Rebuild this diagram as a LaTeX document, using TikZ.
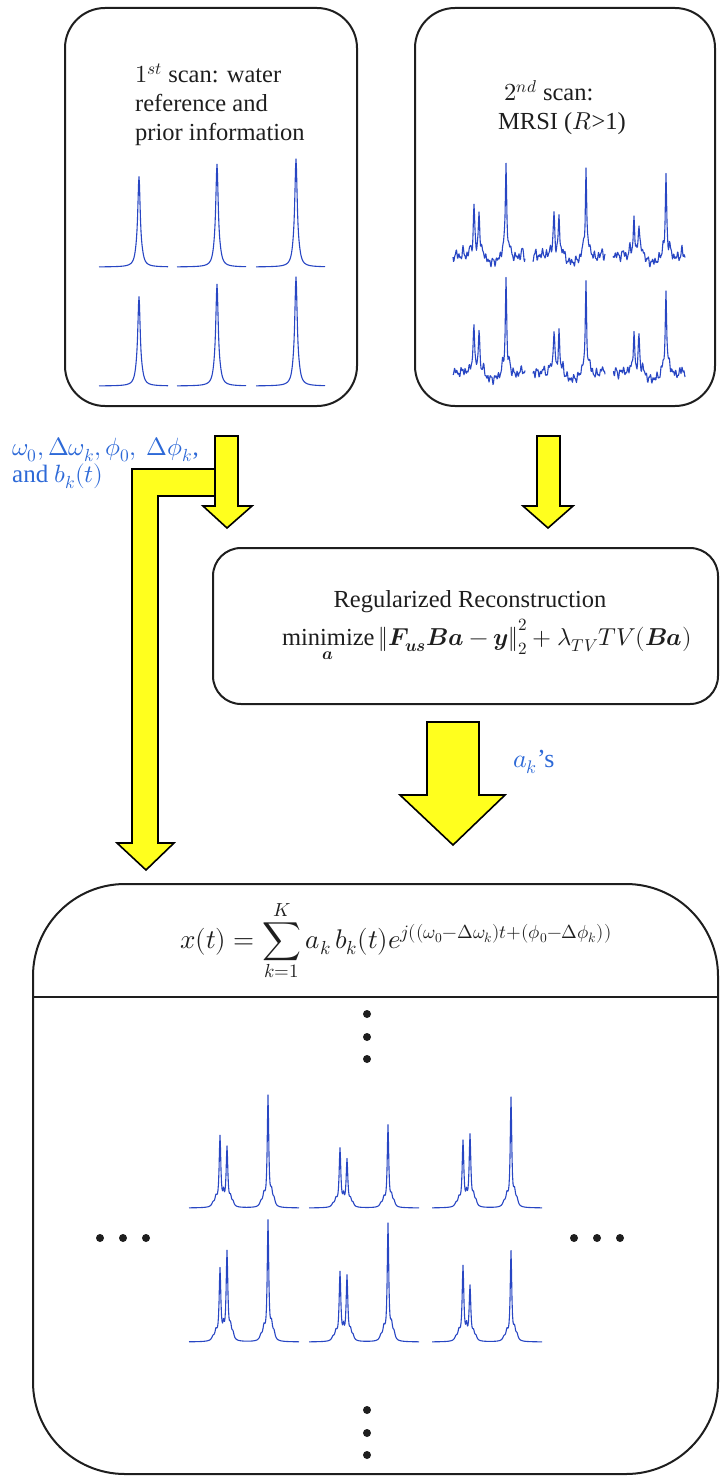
\documentclass[tikz,border=0pt]{standalone}
\usepackage{amsmath}
\usepackage{unicode-math}
\setmainfont{Liberation Serif}

\definecolor{specblue}{RGB}{40,70,195}
\definecolor{labelblue}{RGB}{45,105,215}
\definecolor{arrowyellow}{RGB}{255,255,30}
\definecolor{inkgray}{RGB}{30,30,30}

% Lorentzian line: centre, height, half width (uses the plot variable \x)
\newcommand{\pk}[3]{((#2)*(#3)*(#3)/((\x-(#1))*(\x-(#1))+(#3)*(#3)))}

% single water line; #1 left x, #2 baseline, #3 height
\newcommand{\waterspec}[3]{%
  \draw[spec] plot[domain=0:69, samples=139]
    ({#1+\x},{#2-\pk{40}{#3}{1.5}-\pk{37.5}{0.06*#3}{2}-\pk{43}{0.05*#3}{2}});}

% undersampled, noisy metabolite spectrum; #1 left x, #2 baseline,
% #3,#4 doublet heights, #5 main line height, #6 noise phase
\newcommand{\noisyspec}[6]{%
  \draw[spec] plot[domain=0:72, samples=145]
    ({#1+\x},{#2+2.4*sin(\x*97+#6)+1.9*sin(\x*173+2*#6)+1.6*sin(\x*61+3*#6)
      +5*exp(0-((\x-39)/8)*((\x-39)/8))
      -\pk{21}{#3}{0.9}-\pk{26}{#4}{0.9}-\pk{53}{#5}{0.8}
      -\pk{17}{8}{1.2}-\pk{30}{8}{1.2}-\pk{50}{9}{1.2}-\pk{56.5}{10}{1.2}
      -\pk{69}{8}{1.0}-\pk{10}{6}{1.2}-\pk{3}{5}{1}});}

% reconstructed metabolite spectrum; #1 left x, #2 baseline,
% #3,#4 doublet heights, #5 main line height
\newcommand{\metspec}[5]{%
  \draw[spec] plot[domain=0:110, samples=221]
    ({#1+\x},{#2-\pk{31}{#3}{1.0}-\pk{38}{#4}{1.0}-\pk{79}{#5}{0.9}
      -\pk{27}{0.12*#3}{1.3}-\pk{34.5}{0.15*#3}{0.8}-\pk{24}{0.05*#3}{1.5}
      -\pk{41.5}{0.14*#4}{1.2}-\pk{44}{0.07*#4}{1.2}
      -\pk{75}{0.1*#5}{1.3}-\pk{82.5}{0.12*#5}{1.2}-\pk{85}{0.06*#5}{1.3}
      -\pk{72}{0.04*#5}{1.5}});}

\tikzset{
  box/.style={draw=inkgray, line width=2pt, rectangle, fill=none, inner sep=0pt},
  spec/.style={draw=specblue, line width=1.1pt, line join=round},
  blockarrow/.style={draw=black, line width=1.6pt, fill=arrowyellow, line join=miter},
  txt/.style={inner sep=0pt, text=inkgray, font=\fontsize{24.5}{29}\selectfont},
  lbl/.style={inner sep=0pt, text=labelblue, font=\fontsize{25}{30}\selectfont},
  ellipsisdot/.style={circle, fill=inkgray, inner sep=0pt, minimum size=8pt}
}

\begin{document}
\begin{tikzpicture}[x=1pt, y=-1pt]
\useasboundingbox (0,0) rectangle (721,1477);

% ---------- boxes ----------
\node[box, rounded corners=40pt, minimum width=292pt, minimum height=398pt] (scanA) at (211,207) {};
\node[box, rounded corners=40pt, minimum width=300pt, minimum height=398pt] (scanB) at (565,207) {};
\node[box, rounded corners=28pt, minimum width=505pt, minimum height=156pt] (recon) at (465.5,626) {};
\node[box, rounded corners=92pt, minimum width=685pt, minimum height=590pt] (result) at (375.5,1179) {};
\coordinate (divL) at (33,997);
\coordinate (divR) at (718,997);
\draw[draw=inkgray, line width=2pt] (divL) -- (divR);

% ---------- box texts ----------
\node[txt, anchor=base west] (a1) at (135,83) {$1^{st}$ scan: water};
\node[txt, anchor=base west] (a2) at (135,112) {reference and};
\node[txt, anchor=base west] (a3) at (135,140) {prior information};

\node[txt, anchor=base] (b1) at (549,101) {$2^{nd}$ scan:};
\node[txt, anchor=base] (b2) at (562,129) {MRSI ($R$>1)};

\node[txt, anchor=base] (r1) at (470,607) {Regularized Reconstruction};
\node[txt, anchor=base] (r2) at (487,645)
  {$\mathop{\text{minimize}}\limits_{\symbfit{a}}\left\|\symbfit{F}_{\symbfit{us}}\symbfit{B}\symbfit{a}-\symbfit{y}\right\|_2^2+\lambda_{TV}TV(\symbfit{B}\symbfit{a})$};

\node[txt, anchor=base west, font=\fontsize{27}{32}\selectfont] (x1) at (180,948)
  {$x(t)=\displaystyle\sum_{k=1}^{K}a_k\,b_k(t)e^{j((\omega_0-\Delta\omega_k)t+(\phi_0-\Delta\phi_k))}$};

% ---------- labels ----------
\node[lbl, anchor=base west] (p1) at (12,455) {$\omega_0, \Delta\omega_k,\phi_0,\ \Delta\phi_k$,};
\node[lbl, anchor=base west] (p2) at (12,482) {and $b_k(t)$};
\node[lbl, anchor=base west, font=\fontsize{26}{30}\selectfont] (ak) at (513,767) {$a_k$'s};

% ---------- block arrows ----------
% prior information routed down to the result box
\draw[blockarrow] (132,469) -- (216,469) -- (216,496) -- (158,496) -- (158,843)
  -- (174,843) -- (146,870) -- (117,843) -- (132,843) -- cycle;
% prior information into the reconstruction
\draw[blockarrow] (215,436) -- (238,436) -- (238,506) -- (252,506) -- (227,528)
  -- (203,506) -- (215,506) -- cycle;
% MRSI data into the reconstruction
\draw[blockarrow] (537,436) -- (560,436) -- (560,506) -- (573,506) -- (548,528)
  -- (523,506) -- (537,506) -- cycle;
% coefficients into the result
\draw[blockarrow] (427,722) -- (479,722) -- (479,795) -- (505,795) -- (453,845)
  -- (400,795) -- (427,795) -- cycle;

% ---------- spectra: water reference ----------
\waterspec{99}{267}{87}
\waterspec{177}{267}{99}
\waterspec{256}{267}{104}
\waterspec{99}{386}{86}
\waterspec{177}{386}{98}
\waterspec{256}{386}{105}

% ---------- spectra: undersampled MRSI ----------
\noisyspec{453}{258}{50}{45}{95}{0}
\noisyspec{533}{258}{43}{40}{88}{50}
\noisyspec{613}{258}{38}{35}{81}{110}
\noisyspec{453}{375}{50}{42}{95}{170}
\noisyspec{533}{375}{45}{42}{88}{230}
\noisyspec{613}{375}{40}{37}{85}{290}

% ---------- spectra: reconstruction ----------
\metspec{189}{1208}{70}{59}{110}
\metspec{309}{1208}{58}{47}{81}
\metspec{432}{1208}{65}{71}{108}
\metspec{189}{1342}{71}{88}{119}
\metspec{309}{1342}{68}{64}{116}
\metspec{432}{1342}{74}{54}{89}

% ---------- ellipsis dots ----------
\foreach \yy [count=\i] in {1014,1037,1059} \node[ellipsisdot] (vt\i) at (367,\yy) {};
\foreach \yy [count=\i] in {1410,1433,1455} \node[ellipsisdot] (vb\i) at (367,\yy) {};
\foreach \xx [count=\i] in {100,123,146} \node[ellipsisdot] (hl\i) at (\xx,1238) {};
\foreach \xx [count=\i] in {574,597,620} \node[ellipsisdot] (hr\i) at (\xx,1238) {};
\end{tikzpicture}
\end{document}
